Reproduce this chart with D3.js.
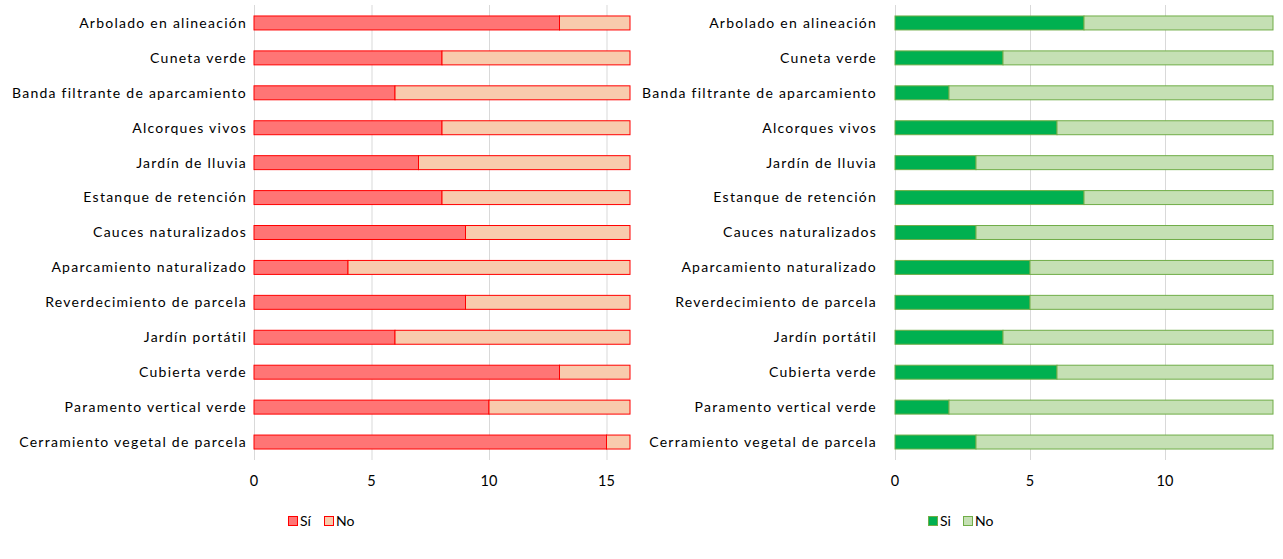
<!DOCTYPE html>
<html><head><meta charset="utf-8">
<script src="https://cdn.jsdelivr.net/npm/d3@7"></script>
<style>body{margin:0;background:#fff}svg{display:block}text{font-family:Lato,"Open Sans",sans-serif;fill:#000}</style>
</head><body><svg id="c" width="1283" height="559"></svg>
<script>
const categories = ["Arbolado en alineación","Cuneta verde","Banda filtrante de aparcamiento","Alcorques vivos","Jardín de lluvia","Estanque de retención","Cauces naturalizados","Aparcamiento naturalizado","Reverdecimiento de parcela","Jardín portátil","Cubierta verde","Paramento vertical verde","Cerramiento vegetal de parcela"];
const leftSi = [13,8,6,8,7,8,9,4,9,6,13,10,15];
const leftNo = [3,8,10,8,9,8,7,12,7,10,3,6,1];
const rightSi = [7,4,2,6,3,7,3,5,5,4,6,2,3];
const rightNo = [7,10,12,8,11,7,11,9,9,10,8,12,11];
const ticks = [0,5,10,15];
const leftLegend = ["Sí","No"];
const rightLegend = ["Si","No"];

const svg = d3.select("#c");
function panel(cfg){
  const g = svg.append("g");
  const x = d3.scaleLinear().domain([0,cfg.max]).range([cfg.x0,cfg.x1]);
  const y = d3.scaleBand().domain(categories).range([5.5,459.5]).paddingInner(0.6).paddingOuter(0.3);
  const tv = ticks.filter(t=>t<=cfg.max);
  g.selectAll(".grid").data(tv).join("line")
    .attr("x1",d=>x(d)+0.5).attr("x2",d=>x(d)+0.5).attr("y1",5).attr("y2",460)
    .attr("stroke","#d9d9d9").attr("stroke-width",1);
  const rows = categories.map((c,i)=>({c,si:cfg.si[i],no:cfg.no[i]}));
  g.selectAll(".si").data(rows).join("rect")
    .attr("x",x(0)).attr("y",d=>y(d.c)).attr("width",d=>x(d.si)-x(0)).attr("height",y.bandwidth())
    .attr("fill",cfg.c1).attr("stroke",cfg.s).attr("stroke-width",1);
  g.selectAll(".no").data(rows).join("rect")
    .attr("x",d=>x(d.si)).attr("y",d=>y(d.c)).attr("width",d=>x(d.si+d.no)-x(d.si)).attr("height",y.bandwidth())
    .attr("fill",cfg.c2).attr("stroke",cfg.s).attr("stroke-width",1);
  g.selectAll(".lab").data(categories).join("text")
    .attr("x",cfg.labX).attr("y",d=>y(d)+y.bandwidth()/2).attr("dy","0.35em")
    .attr("text-anchor","end").attr("font-size",14).attr("letter-spacing","1.25px").text(d=>d);
  g.selectAll(".tk").data(tv).join("text")
    .attr("x",d=>x(d)).attr("y",486).attr("text-anchor","middle").attr("font-size",14.5).text(d=>d);
  const lg = g.append("g");
  cfg.legend.forEach((t,i)=>{
    const lx = cfg.legX + i*cfg.legStep;
    lg.append("rect").attr("x",lx+0.5).attr("y",516.5).attr("width",9).attr("height",9)
      .attr("fill",i?cfg.c2:cfg.c1).attr("stroke",cfg.s).attr("stroke-width",1);
    lg.append("text").attr("x",lx+12).attr("y",526).attr("font-size",14).text(t);
  });
}
panel({x0:254,x1:630,max:16,si:leftSi,no:leftNo,c1:"#FF7575",c2:"#F8CBAD",s:"#FF0000",labX:247,legend:leftLegend,legX:288,legStep:36});
panel({x0:895,x1:1273,max:14,si:rightSi,no:rightNo,c1:"#00B050",c2:"#C5E0B4",s:"#70AD47",labX:877,legend:rightLegend,legX:928,legStep:35});
</script></body></html>
